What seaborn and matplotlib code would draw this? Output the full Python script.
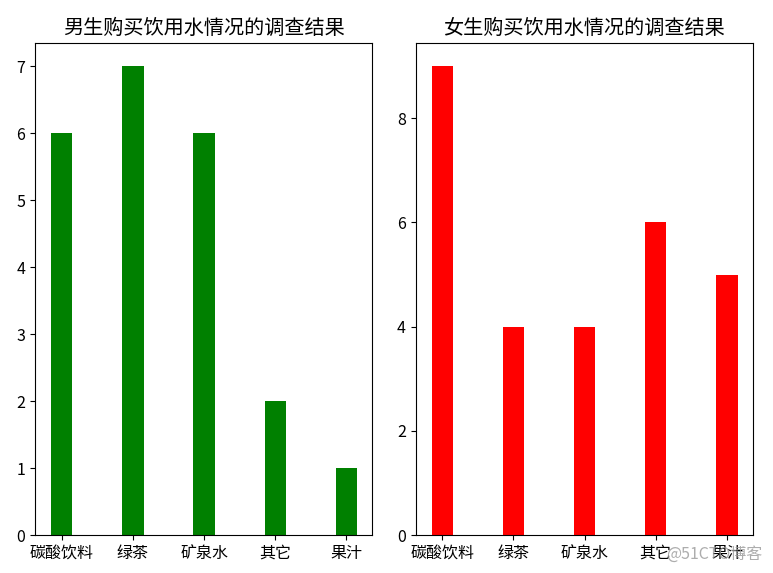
import matplotlib
matplotlib.use("Agg")
import matplotlib.pyplot as plt
import seaborn as sns
import pandas as pd

plt.rcParams['font.family'] = ['Noto Sans CJK SC', 'DejaVu Sans']
plt.rcParams['axes.unicode_minus'] = False

categories = ["碳酸饮料", "绿茶", "矿泉水", "其它", "果汁"]
male_counts = [6, 7, 6, 2, 1]
female_counts = [9, 4, 4, 6, 5]

df = pd.DataFrame({
    "drink": categories,
    "male": male_counts,
    "female": female_counts
})

fig, axes = plt.subplots(1, 2, figsize=(7.73, 5.73), dpi=100)
plt.subplots_adjust(left=0.0453, right=0.974, top=0.9255, bottom=0.0663, wspace=0.128)

# 男生
sns.barplot(data=df, x="drink", y="male", color="green", saturation=1,
            width=0.3, ax=axes[0])
axes[0].set_title("男生购买饮用水情况的调查结果", fontsize=14.5)

# 女生
sns.barplot(data=df, x="drink", y="female", color="red", saturation=1,
            width=0.3, ax=axes[1])
axes[1].set_title("女生购买饮用水情况的调查结果", fontsize=14.5)

for ax in axes:
    ax.set_xlabel("")
    ax.set_ylabel("")
    ax.set_xlim(-0.375, 4.365)
    ax.tick_params(labelsize=11.5)
    for s in ax.spines.values():
        s.set_visible(True)
        s.set_color("black")

axes[0].set_ylim(0, 7.35)
axes[1].set_ylim(0, 9.45)
axes[1].set_yticks([0, 2, 4, 6, 8])

fig.text(0.986, 0.018, "@51CTO博客", ha="right", va="bottom",
         fontsize=11.5, color="#999999", alpha=0.8)

plt.savefig("out.png")
